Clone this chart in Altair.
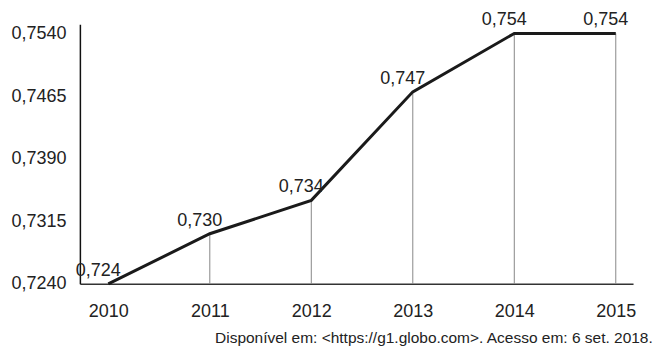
import altair as alt
import pandas as pd

years = [2010, 2011, 2012, 2013, 2014, 2015]
values = [0.724, 0.730, 0.734, 0.747, 0.754, 0.754]
labels = ["0,724", "0,730", "0,734", "0,747", "0,754", "0,754"]
y_ticks = [0.7240, 0.7315, 0.7390, 0.7465, 0.7540]
source = "Disponível em: <https://g1.globo.com>. Acesso em: 6 set. 2018."

df = pd.DataFrame({"ano": years, "idh": values, "rotulo": labels, "base": [0.724] * len(years)})

FONT = "Liberation Sans"
FS = 18
xs = alt.Scale(domain=[2009.72, 2015.17], nice=False, zero=False)
ys = alt.Scale(domain=[0.724, 0.7551], nice=False, zero=False)

x_axis = alt.Axis(values=years, format="d", title=None, grid=False, ticks=False,
                  labelPadding=19, labelFontSize=FS, labelFont=FONT, labelColor="#222",
                  domainColor="#333", domainWidth=1.5)
y_axis = alt.Axis(values=y_ticks, title=None, grid=False, ticks=False,
                  labelExpr="replace(format(datum.value, '.4f'), '.', ',')",
                  labelPadding=14, labelFontSize=FS, labelFont=FONT, labelColor="#222",
                  domainColor="#111", domainWidth=1.5)

base = alt.Chart(df)

rules = base.mark_rule(color="#888", strokeWidth=1).encode(
    x=alt.X("ano:Q", scale=xs, axis=x_axis),
    y=alt.Y("idh:Q", scale=ys, axis=y_axis),
    y2="base:Q",
)

line = base.mark_line(color="#1a1a1a", strokeWidth=3).encode(
    x=alt.X("ano:Q", scale=xs),
    y=alt.Y("idh:Q", scale=ys),
)

text = base.mark_text(font=FONT, fontSize=FS, color="#222", baseline="middle", dy=-13, dx=-10).encode(
    x=alt.X("ano:Q", scale=xs),
    y=alt.Y("idh:Q", scale=ys),
    text="rotulo:N",
)

chart = alt.layer(rules, line, text).properties(
    width=554,
    height=260,
    padding={"left": 2, "top": 3, "right": 0, "bottom": 0},
    title=alt.TitleParams(source, orient="bottom", anchor="end", fontSize=15.5, font=FONT,
                          fontWeight="normal", color="#222", offset=10, dx=17),
).configure_view(stroke=None)

chart.save("out.html", embed_options={"renderer": "svg", "actions": False})
